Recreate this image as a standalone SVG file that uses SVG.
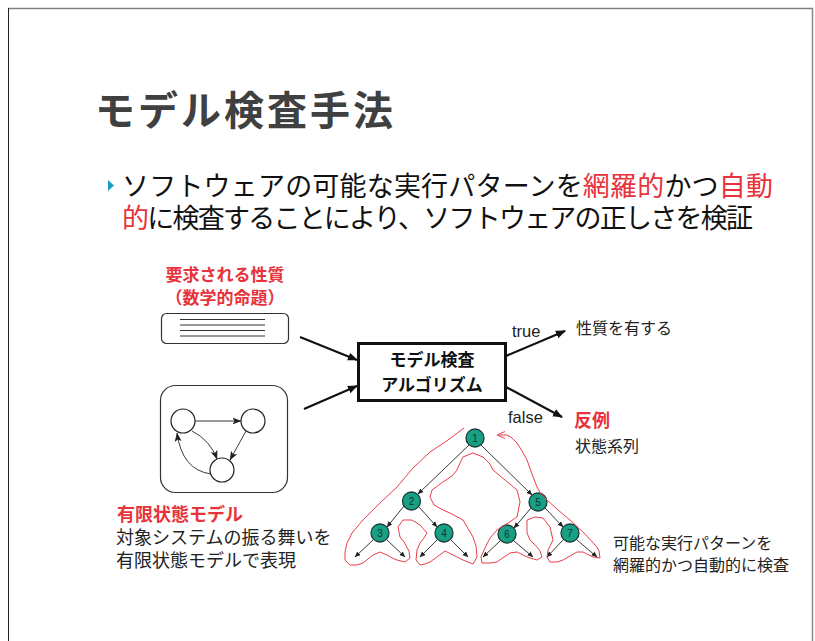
<svg xmlns="http://www.w3.org/2000/svg" width="815" height="641" viewBox="0 0 815 641">
<defs>
<style>
.jp{font-family:"Liberation Sans","Noto Sans CJK JP",sans-serif;}
.red{fill:#e8323c;}
.dk{fill:#222;}
.b{font-weight:bold;}
.edge{stroke:#222;stroke-width:0.9;fill:none;}
.tn circle{fill:#17a085;stroke:#1d3b33;stroke-width:1.3;}
.tn text{font-family:"Liberation Sans",sans-serif;font-size:10px;fill:#183028;text-anchor:middle;}
.sm circle{fill:#fff;stroke:#222;stroke-width:1.2;}
</style>
<marker id="ah" markerWidth="10" markerHeight="10" refX="9" refY="5" orient="auto" markerUnits="userSpaceOnUse">
<path d="M0,1 L10,5 L0,9 Z" fill="#111"/>
</marker>
<marker id="ahs" markerWidth="6" markerHeight="6" refX="5.5" refY="3" orient="auto" markerUnits="userSpaceOnUse">
<path d="M0,0.5 L6,3 L0,5.5 Z" fill="#222"/>
</marker>
<marker id="ahm" markerWidth="9" markerHeight="8" refX="8.5" refY="4" orient="auto" markerUnits="userSpaceOnUse">
<path d="M0,0.5 L9,4 L0,7.5 L2,4 Z" fill="#222"/>
</marker>
<marker id="ahr" markerWidth="8" markerHeight="8" refX="7" refY="4" orient="auto" markerUnits="userSpaceOnUse">
<path d="M0,0.5 L8,4 L0,7.5" fill="none" stroke="#e8404a" stroke-width="1"/>
</marker>
</defs>
<rect width="815" height="641" fill="#fff"/>
<g id="frame">
<line x1="8" y1="8.5" x2="813" y2="8.5" stroke="#808080" stroke-width="1.5"/>
<line x1="8.5" y1="8" x2="8.5" y2="641" stroke="#222" stroke-width="1"/>
<line x1="812.5" y1="8" x2="812.5" y2="641" stroke="#888" stroke-width="1.5"/>
</g>
<g id="title">
<text x="95" y="125" class="jp" font-size="40" font-weight="bold" fill="#404040" textLength="298" lengthAdjust="spacing">モデル検査手法</text>
</g>
<g id="bullet">
<path d="M108,180 L114,185.5 L108,191 Z" fill="#1b9cc0"/>
<text x="122" y="196" class="jp" fill="#111" font-size="27" textLength="651" lengthAdjust="spacing">ソフトウェアの可能な実行パターンを<tspan class="red">網羅的</tspan>かつ<tspan class="red">自動</tspan></text>
<text x="122" y="228" class="jp" fill="#111" font-size="27" textLength="631" lengthAdjust="spacing"><tspan class="red">的</tspan>に検査することにより、ソフトウェアの正しさを検証</text>
</g>
<g id="spec">
<text x="225" y="281" class="jp red b" font-size="17" text-anchor="middle">要求される性質</text>
<text x="225" y="304" class="jp red b" font-size="17" text-anchor="middle">（数学的命題）</text>
<rect x="161.5" y="313.5" width="127" height="30" rx="5" fill="#fff" stroke="#333" stroke-width="1.2"/>
<g stroke="#333" stroke-width="1">
<line x1="180" y1="319.5" x2="265" y2="319.5"/>
<line x1="180" y1="325" x2="265" y2="325"/>
<line x1="180" y1="330.5" x2="265" y2="330.5"/>
<line x1="180" y1="336" x2="265" y2="336"/>
</g>
</g>
<g id="fsm">
<rect x="160.5" y="385.5" width="127" height="107" rx="15" fill="#fff" stroke="#333" stroke-width="1.2"/>
<g class="sm">
<circle cx="183" cy="421" r="12"/>
<circle cx="253" cy="421" r="12"/>
<circle cx="222" cy="470" r="12"/>
</g>
<g class="edge">
<line x1="195" y1="421" x2="241" y2="421" marker-end="url(#ahm)"/>
<line x1="246" y1="431" x2="230" y2="460" marker-end="url(#ahm)"/>
<path d="M192,431 Q210,440 217,459" marker-end="url(#ahm)"/>
<path d="M211,474 Q182,470 177,433" marker-end="url(#ahm)"/>
</g>
<text x="117" y="521" class="jp red b" font-size="18">有限状態モデル</text>
<text x="116" y="544" class="jp dk" font-size="18">対象システムの振る舞いを</text>
<text x="116" y="567" class="jp dk" font-size="18">有限状態モデルで表現</text>
</g>
<g id="algo">
<rect x="358.5" y="343.5" width="147" height="57" fill="#fff" stroke="#111" stroke-width="3"/>
<text x="432" y="366" class="jp b" font-size="17" fill="#111" text-anchor="middle">モデル検査</text>
<text x="432" y="391" class="jp b" font-size="17" fill="#111" text-anchor="middle">アルゴリズム</text>
</g>
<g id="results">
<text x="512" y="337" class="jp dk" font-size="16.5">true</text>
<text x="576" y="334" class="jp dk" font-size="16">性質を有する</text>
<text x="508" y="423" class="jp dk" font-size="16.5">false</text>
<text x="574" y="427" class="jp red b" font-size="18">反例</text>
<text x="575" y="452" class="jp dk" font-size="16">状態系列</text>
<text x="613" y="549" class="jp dk" font-size="16">可能な実行パターンを</text>
<text x="613" y="571" class="jp dk" font-size="16">網羅的かつ自動的に検査</text>
</g>
<g id="connectors" stroke="#111" stroke-width="2.2" fill="none">
<line x1="300" y1="337" x2="357" y2="360" marker-end="url(#ah)"/>
<line x1="304" y1="409" x2="357" y2="386" marker-end="url(#ah)"/>
<line x1="506" y1="356" x2="565" y2="331" marker-end="url(#ah)"/>
<line x1="506" y1="387" x2="562" y2="417" marker-end="url(#ah)"/>
</g>
<g id="tree-edges" class="edge">
<line x1="469" y1="445" x2="418" y2="494" marker-end="url(#ahs)"/>
<line x1="481" y1="445" x2="532" y2="495" marker-end="url(#ahs)"/>
<line x1="404" y1="506" x2="387" y2="527" marker-end="url(#ahs)"/>
<line x1="419" y1="507" x2="437" y2="527" marker-end="url(#ahs)"/>
<line x1="531" y1="508" x2="514" y2="528" marker-end="url(#ahs)"/>
<line x1="545" y1="508" x2="563" y2="527" marker-end="url(#ahs)"/>
<line x1="373" y1="540" x2="355" y2="557" marker-end="url(#ahs)"/>
<line x1="387" y1="540" x2="405" y2="557" marker-end="url(#ahs)"/>
<line x1="437" y1="540" x2="420" y2="557" marker-end="url(#ahs)"/>
<line x1="451" y1="540" x2="468" y2="557" marker-end="url(#ahs)"/>
<line x1="500" y1="541" x2="483" y2="557" marker-end="url(#ahs)"/>
<line x1="514" y1="541" x2="533" y2="557" marker-end="url(#ahs)"/>
<line x1="563" y1="540" x2="547" y2="557" marker-end="url(#ahs)"/>
<line x1="577" y1="540" x2="597" y2="557" marker-end="url(#ahs)"/>
</g>
<g id="tree-nodes">
<g id="n1" class="tn"><circle cx="475" cy="438" r="9"/><text x="475" y="441.5">1</text></g>
<g id="n2" class="tn"><circle cx="411.5" cy="501" r="9"/><text x="411.5" y="504.5">2</text></g>
<g id="n3" class="tn"><circle cx="380" cy="533" r="9"/><text x="380" y="536.5">3</text></g>
<g id="n4" class="tn"><circle cx="444" cy="533" r="9"/><text x="444" y="536.5">4</text></g>
<g id="n5" class="tn"><circle cx="538" cy="502" r="9"/><text x="538" y="505.5">5</text></g>
<g id="n6" class="tn"><circle cx="507" cy="534" r="9"/><text x="507" y="537.5">6</text></g>
<g id="n7" class="tn"><circle cx="570" cy="533" r="9"/><text x="570" y="536.5">7</text></g>
</g>
<g id="traversal">
<polyline fill="none" stroke="#e8404a" stroke-width="1" stroke-linejoin="round" marker-end="url(#ahr)" points="464,428 448,440 430,452 413,468 397,487 380,503 363,520 352,533 347,543 345,552 345,560 350,565 357,565 363,563 368,559 373,555 380,552 387,555 392,558 397,560 405,562 410,558 409,551 404,542 400,537 398,527 403,520 412,520 420,525 427,533 424,538 420,543 417,550 416,560 420,565 425,564 430,562 437,557 445,551 453,555 463,560 473,564 477,557 476,546 473,537 463,520 452,514 443,510 434,505 430,497 432,490 443,482 452,476 457,470 460,463 463,457 473,453 483,457 490,464 493,470 505,480 517,490 520,502 517,517 508,523 497,530 490,538 485,548 481,557 482,563 490,563 497,562 504,557 510,553 517,552 527,557 537,560 542,557 540,551 537,547 530,540 527,533 527,520 535,517 543,518 550,527 553,540 550,546 548,550 547,557 550,562 557,562 563,560 570,556 577,552 583,552 593,557 600,558 599,551 597,547 584,533 570,520 558,510 547,500 541,494 537,487 532,474 527,460 522,451 517,443 512,438 507,435 498,435"/>
</g>
</svg>
